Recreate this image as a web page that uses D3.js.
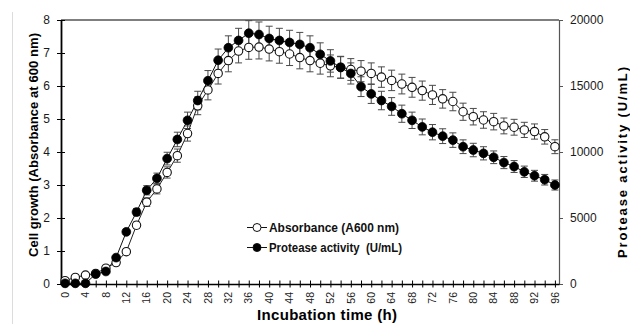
<!DOCTYPE html>
<html>
<head>
<meta charset="utf-8">
<script src="https://cdn.jsdelivr.net/npm/d3@7"></script>
<style>
  html, body { margin: 0; padding: 0; background: #fff; }
  svg { display: block; font-family: "Liberation Sans", Arial, sans-serif; }
  .tick text { fill: #1a1a1a; font-size: 12px; }
</style>
</head>
<body>
<svg id="chart" width="630" height="324"></svg>
<script>
// ── Data ──
var hours = [0, 2, 4, 6, 8, 10, 12, 14, 16, 18, 20, 22, 24, 26, 28, 30, 32, 34, 36, 38, 40, 42, 44, 46, 48,
  50, 52, 54, 56, 58, 60, 62, 64, 66, 68, 70, 72, 74, 76, 78, 80, 82, 84, 86, 88, 90, 92, 94, 96];

// Absorbance A600 (left axis)
var absorbance = [0.10, 0.20, 0.27, 0.32, 0.48, 0.65, 0.98, 1.78, 2.48, 2.88, 3.38, 3.89, 4.56, 5.40, 5.88,
  6.38, 6.77, 7.06, 7.17, 7.18, 7.12, 7.04, 6.97, 6.86, 6.77, 6.69, 6.61, 6.57, 6.50, 6.45, 6.38, 6.27,
  6.17, 6.06, 5.96, 5.86, 5.73, 5.61, 5.53, 5.22, 5.07, 4.97, 4.92, 4.79, 4.75, 4.67, 4.62, 4.46, 4.16];
var absorbanceErr = [0.01, 0.02, 0.02, 0.02, 0.03, 0.04, 0.06, 0.10, 0.13, 0.15, 0.17, 0.20, 0.23, 0.27, 0.30,
  0.32, 0.34, 0.36, 0.36, 0.36, 0.36, 0.35, 0.35, 0.34, 0.34, 0.33, 0.33, 0.33, 0.33, 0.32, 0.32, 0.31,
  0.31, 0.30, 0.30, 0.29, 0.29, 0.28, 0.28, 0.26, 0.25, 0.25, 0.25, 0.24, 0.24, 0.23, 0.23, 0.22, 0.21];

// Protease activity U/mL (right axis)
var protease = [50, 50, 50, 750, 950, 2000, 3950, 5450, 7100, 8000, 9500, 10950, 12400, 13900, 15400,
  16950, 17900, 18450, 19000, 18900, 18600, 18450, 18300, 18150, 17900, 17400, 16900, 16400, 15950, 14950,
  14400, 13900, 13450, 12900, 12400, 11900, 11500, 11200, 10900, 10400, 10150, 9900, 9600, 9200, 8900,
  8500, 8200, 7900, 7500];
var proteaseErr = [3, 3, 3, 40, 50, 100, 200, 270, 350, 400, 480, 550, 620, 700, 770,
  850, 900, 920, 950, 950, 930, 920, 920, 910, 900, 870, 850, 820, 800, 750,
  720, 700, 670, 650, 620, 600, 580, 560, 550, 520, 510, 500, 480, 460, 450,
  430, 410, 400, 380];

var leftTicks = [0, 1, 2, 3, 4, 5, 6, 7, 8];
var rightTicks = [0, 5000, 10000, 15000, 20000];
var xTicks = d3.range(0, 97, 2);

var legendLabels = ['Absorbance (A600 nm)', 'Protease activity  (U/mL)'];

// ── Layout ──
var svg = d3.select('#chart');
var L = 61, R = 559, T = 20, B = 284;

var x = d3.scaleLinear().domain([-0.8, 96.8]).range([L, R]);
var yL = d3.scaleLinear().domain([0, 8]).range([B, T]);
var yR = d3.scaleLinear().domain([0, 20000]).range([B, T]);

// chart area left edge (faint)
svg.append('line').attr('x1', 12.5).attr('x2', 12.5).attr('y1', 12).attr('y2', 324)
  .attr('stroke', '#dcdcdc').attr('stroke-width', 1);

// plot frame top
svg.append('line').attr('x1', L).attr('x2', R).attr('y1', T).attr('y2', T)
  .attr('stroke', '#555').attr('stroke-width', 1.6);

// ── Axes ──
var gL = svg.append('g').attr('transform', 'translate(' + L + ',0)')
  .call(d3.axisLeft(yL).tickValues(leftTicks).tickSize(4).tickSizeOuter(0).tickPadding(7));
gL.select('.domain').attr('stroke', '#000').attr('stroke-width', 1.8);
gL.selectAll('.tick line').attr('x1', 4).attr('stroke', '#000');

var gR = svg.append('g').attr('transform', 'translate(' + R + ',0)')
  .call(d3.axisRight(yR).tickValues(rightTicks).tickFormat(d3.format('d'))
    .tickSize(4).tickSizeOuter(0).tickPadding(7));
gR.select('.domain').attr('stroke', '#555').attr('stroke-width', 1.2);
gR.selectAll('.tick line').attr('stroke', '#555');

var gX = svg.append('g').attr('transform', 'translate(0,' + B + ')')
  .call(d3.axisBottom(x).tickValues(xTicks).tickSize(3.5).tickSizeOuter(0).tickFormat(''));
gX.select('.domain').attr('stroke', '#000').attr('stroke-width', 1.5);
gX.selectAll('.tick line').attr('y1', -3.5).attr('stroke', '#000');

// rotated x labels every 4 h
svg.append('g').selectAll('text').data(xTicks.filter(function (d) { return d % 4 === 0; }))
  .join('text')
  .attr('transform', function (d) { return 'translate(' + x(d) + ',292) rotate(-90)'; })
  .attr('text-anchor', 'end').attr('dy', '0.35em')
  .attr('fill', '#1a1a1a').style('font-size', '10.5px')
  .text(function (d) { return d; });

// ── Axis titles ──
svg.append('text').attr('transform', 'translate(37.5,145) rotate(-90)')
  .attr('text-anchor', 'middle').style('font-size', '13px').style('font-weight', 'bold')
  .attr('textLength', 224).attr('lengthAdjust', 'spacing')
  .text('Cell growth (Absorbance at 600 nm)');

svg.append('text').attr('transform', 'translate(627,162.5) rotate(-90)')
  .attr('text-anchor', 'middle').style('font-size', '13px').style('font-weight', 'bold')
  .attr('textLength', 191).attr('lengthAdjust', 'spacing')
  .text('Protease activity (U/mL)');

svg.append('text').attr('x', 327).attr('y', 320)
  .attr('text-anchor', 'middle').style('font-size', '15px').style('font-weight', 'bold')
  .attr('textLength', 140).attr('lengthAdjust', 'spacing')
  .text('Incubation time (h)');

// ── Series ──
var ptsA = hours.map(function (h, i) { return { x: x(h), y: yL(absorbance[i]), lo: yL(absorbance[i] - absorbanceErr[i]), hi: yL(absorbance[i] + absorbanceErr[i]) }; });
var ptsP = hours.map(function (h, i) { return { x: x(h), y: yR(protease[i]), lo: yR(protease[i] - proteaseErr[i]), hi: yR(protease[i] + proteaseErr[i]) }; });

function errorBars(pts) {
  var g = svg.append('g').attr('stroke', '#4a4a4a').attr('stroke-width', 1).attr('fill', 'none');
  var e = g.selectAll('g').data(pts).join('g');
  e.append('line').attr('x1', function (d) { return d.x; }).attr('x2', function (d) { return d.x; })
    .attr('y1', function (d) { return d.lo; }).attr('y2', function (d) { return d.hi; });
  e.append('line').attr('x1', function (d) { return d.x - 3.5; }).attr('x2', function (d) { return d.x + 3.5; })
    .attr('y1', function (d) { return d.hi; }).attr('y2', function (d) { return d.hi; });
  e.append('line').attr('x1', function (d) { return d.x - 3.5; }).attr('x2', function (d) { return d.x + 3.5; })
    .attr('y1', function (d) { return d.lo; }).attr('y2', function (d) { return d.lo; });
}
errorBars(ptsA);
errorBars(ptsP);

var line = d3.line().x(function (d) { return d.x; }).y(function (d) { return d.y; });
svg.append('path').datum(ptsA).attr('d', line).attr('fill', 'none').attr('stroke', '#222').attr('stroke-width', 1);
svg.append('path').datum(ptsP).attr('d', line).attr('fill', 'none').attr('stroke', '#111').attr('stroke-width', 1);

svg.append('g').selectAll('circle').data(ptsA).join('circle')
  .attr('cx', function (d) { return d.x; }).attr('cy', function (d) { return d.y; }).attr('r', 4.2)
  .attr('fill', '#fff').attr('stroke', '#111').attr('stroke-width', 1.1);
svg.append('g').selectAll('circle').data(ptsP).join('circle')
  .attr('cx', function (d) { return d.x; }).attr('cy', function (d) { return d.y; }).attr('r', 4.4)
  .attr('fill', '#000').attr('stroke', '#000').attr('stroke-width', 0.8);

// ── Legend ──
var leg = svg.append('g');
var legRows = leg.selectAll('g').data(legendLabels).join('g')
  .attr('transform', function (d, i) { return 'translate(247,' + (227.5 + i * 20) + ')'; });
legRows.append('line').attr('x1', 0).attr('x2', 20).attr('stroke', '#111').attr('stroke-width', 1);
legRows.append('circle').attr('cx', 10).attr('r', 4)
  .attr('fill', function (d, i) { return i === 0 ? '#fff' : '#000'; })
  .attr('stroke', '#111').attr('stroke-width', 1);
legRows.append('text').attr('x', 22).attr('dy', '0.36em')
  .style('font-size', '12px').style('font-weight', 'bold').style('white-space', 'pre').attr('fill', '#111')
  .attr('textLength', function (d, i) { return i === 0 ? 130 : 133; }).attr('lengthAdjust', 'spacingAndGlyphs')
  .text(function (d) { return d; });
</script>
</body>
</html>
